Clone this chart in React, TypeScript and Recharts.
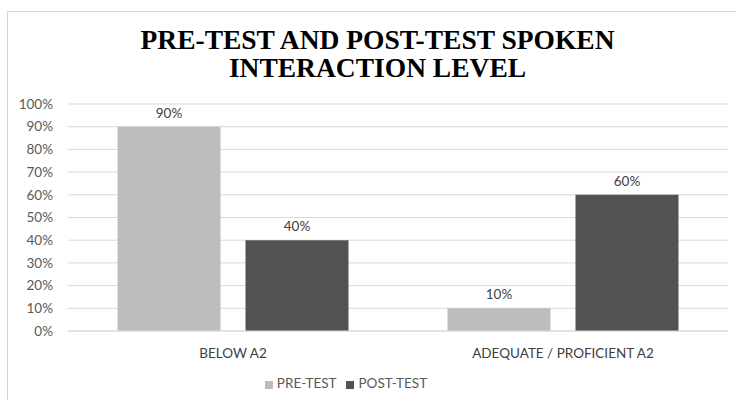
import { BarChart, Bar, XAxis, YAxis, CartesianGrid, Legend, LabelList } from 'recharts'

// categories and values (percent)
const categories = ['BELOW A2', 'ADEQUATE / PROFICIENT A2']
const preTest = [90, 10]
const postTest = [40, 60]
const yTicks = [0, 10, 20, 30, 40, 50, 60, 70, 80, 90, 100]
const seriesOrder = ['pre', 'post']

const data = categories.map((name, i) => ({ name, pre: preTest[i], post: postTest[i] }))

const FONT = 'Lato, "Open Sans", sans-serif'

export default function App() {
  return (
    <div style={{ position: 'fixed', left: 0, top: 0, width: 736, height: 400, background: '#fff', overflow: 'hidden' }}>
      {/* chart frame */}
      <div style={{ position: 'absolute', left: 7, top: 11, width: 760, height: 420, border: '1px solid #d6d6d6' }} />
      <div
        style={{
          position: 'absolute',
          left: 0,
          top: 26,
          width: 755,
          textAlign: 'center',
          fontFamily: '"Liberation Serif", "Times New Roman", serif',
          fontWeight: 'bold',
          fontSize: 27.5,
          lineHeight: '28px',
          color: '#000',
        }}
      >
        PRE-TEST AND POST-TEST SPOKEN
        <br />
        INTERACTION LEVEL
      </div>
      <BarChart
        width={736}
        height={400}
        data={data}
        margin={{ top: 104, right: 8, left: 8, bottom: 23 }}
        barGap={25}
        barCategoryGap="15%"
        style={{ position: 'absolute', left: 0, top: 0 }}
      >
        <CartesianGrid vertical={false} stroke="#d9d9d9" />
        <XAxis
          dataKey="name"
          tickLine={false}
          axisLine={{ stroke: '#d9d9d9' }}
          tick={{ fill: '#404040', fontSize: 13.5, fontFamily: FONT }}
          tickMargin={11}
        />
        <YAxis
          width={60}
          domain={[0, 100]}
          ticks={yTicks}
          tickFormatter={(v: number) => `${v}%`}
          tickLine={false}
          axisLine={false}
          tick={{ fill: '#595959', fontSize: 13.5, fontFamily: FONT }}
          tickMargin={9}
          interval={0}
        />
        <Legend
          iconType="square"
          iconSize={8}
          itemSorter={(item: any) => seriesOrder.indexOf(item.dataKey)}
          wrapperStyle={{ top: 375, left: 0, width: 702, fontFamily: FONT, fontSize: 13.5 }}
          formatter={(value: string) => <span style={{ color: '#595959' }}>{value}</span>}
        />
        <Bar dataKey="pre" name="PRE-TEST" fill="#bdbdbd" isAnimationActive={false}>
          <LabelList dataKey="pre" position="top" offset={9} formatter={(v: number) => `${v}%`} fill="#404040" fontSize={13.5} fontFamily={FONT} />
        </Bar>
        <Bar dataKey="post" name="POST-TEST" fill="#525252" isAnimationActive={false}>
          <LabelList dataKey="post" position="top" offset={9} formatter={(v: number) => `${v}%`} fill="#404040" fontSize={13.5} fontFamily={FONT} />
        </Bar>
      </BarChart>
    </div>
  )
}
